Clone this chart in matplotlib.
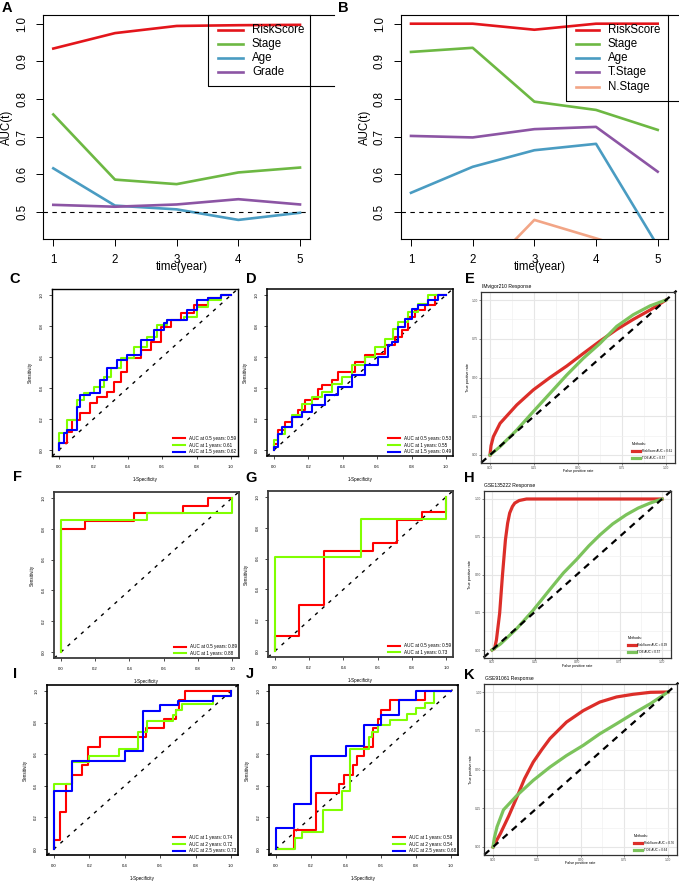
import matplotlib
matplotlib.use('Agg')
import matplotlib.pyplot as plt
from matplotlib.lines import Line2D

plt.rcParams['font.family'] = ['Liberation Sans', 'DejaVu Sans']

W, H = 679, 883

# ---- A / B : time-dependent AUC ----
years = [1, 2, 3, 4, 5]
a_names = ['RiskScore', 'Stage', 'Age', 'Grade']
a_riskscore = [0.934, 0.975, 0.994, 0.996, 0.997]
a_stage = [0.759, 0.586, 0.574, 0.605, 0.618]
a_age = [0.616, 0.517, 0.507, 0.479, 0.498]
a_grade = [0.519, 0.514, 0.520, 0.534, 0.520]

b_names = ['RiskScore', 'Stage', 'Age', 'T.Stage', 'N.Stage']
b_riskscore = [1.0, 1.0, 0.984, 1.0, 1.0]
b_stage = [0.925, 0.936, 0.793, 0.771, 0.718]
b_age = [0.551, 0.620, 0.664, 0.681, 0.41]
b_tstage = [0.702, 0.698, 0.720, 0.726, 0.607]
b_nstage = [0.33, 0.31, 0.479, 0.430, 0.38]

auc_colors = ['#E3151B', '#6DB843', '#4A9CC2', '#8C55A4', '#F2A586']

# ---- C / D : ROC, training / validation ----
c_labels = ['AUC at 0.5 years: 0.59', 'AUC at 1 years: 0.61', 'AUC at 1.5 years: 0.62']
c_red_fpr = [0, 0.047, 0.076, 0.125, 0.183, 0.222, 0.28, 0.319, 0.358, 0.397, 0.475, 0.533, 0.591, 0.65, 0.708, 0.786, 0.864, 0.942, 1.0]
c_red_tpr = [0, 0.043, 0.118, 0.194, 0.237, 0.301, 0.344, 0.376, 0.44, 0.505, 0.591, 0.645, 0.699, 0.796, 0.839, 0.882, 0.935, 0.978, 1.0]
c_green_fpr = [0, 0.047, 0.105, 0.144, 0.202, 0.261, 0.30, 0.358, 0.436, 0.514, 0.572, 0.63, 0.728, 0.805, 0.864, 0.942, 1.0]
c_green_tpr = [0, 0.108, 0.194, 0.323, 0.366, 0.409, 0.473, 0.527, 0.591, 0.667, 0.731, 0.806, 0.839, 0.86, 0.925, 0.968, 1.0]
c_blue_fpr = [0, 0.027, 0.047, 0.105, 0.125, 0.183, 0.241, 0.28, 0.338, 0.397, 0.475, 0.553, 0.611, 0.63, 0.747, 0.805, 0.864, 0.942, 1.0]
c_blue_tpr = [0, 0.043, 0.108, 0.129, 0.28, 0.355, 0.366, 0.452, 0.527, 0.581, 0.613, 0.71, 0.774, 0.817, 0.839, 0.903, 0.968, 0.978, 1.0]

d_labels = ['AUC at 0.5 years: 0.53', 'AUC at 1 years: 0.55', 'AUC at 1.5 years: 0.49']
d_red_fpr = [0, 0.025, 0.064, 0.103, 0.141, 0.18, 0.219, 0.258, 0.277, 0.335, 0.374, 0.403, 0.471, 0.529, 0.587, 0.645, 0.703, 0.742, 0.78, 0.82, 0.878, 0.936, 1.0]
d_red_tpr = [0, 0.04, 0.127, 0.18, 0.213, 0.256, 0.32, 0.331, 0.396, 0.417, 0.449, 0.503, 0.503, 0.568, 0.611, 0.622, 0.675, 0.729, 0.772, 0.858, 0.901, 0.933, 1.0]
d_green_fpr = [0, 0.025, 0.064, 0.103, 0.161, 0.219, 0.277, 0.335, 0.393, 0.452, 0.529, 0.587, 0.645, 0.694, 0.723, 0.78, 0.839, 0.897, 1.0]
d_green_tpr = [0, 0.062, 0.105, 0.148, 0.224, 0.30, 0.342, 0.374, 0.428, 0.471, 0.546, 0.60, 0.665, 0.718, 0.783, 0.826, 0.89, 0.944, 1.0]
d_blue_fpr = [0, 0.025, 0.045, 0.103, 0.161, 0.219, 0.296, 0.374, 0.452, 0.529, 0.607, 0.665, 0.684, 0.723, 0.762, 0.80, 0.839, 0.897, 0.955, 1.0]
d_blue_tpr = [0, 0.02, 0.105, 0.148, 0.213, 0.245, 0.288, 0.353, 0.406, 0.482, 0.546, 0.60, 0.675, 0.697, 0.794, 0.847, 0.912, 0.933, 0.966, 1.0]

# ---- F / G ----
f_labels = ['AUC at 0.5 years: 0.89', 'AUC at 1 years: 0.88']
f_red_fpr = [0, 0.143, 0.429, 0.714, 0.857, 1.0]
f_red_tpr = [0, 0.80, 0.85, 0.90, 0.95, 1.0]
f_green_fpr = [0, 0.5, 1.0, 1.0]
f_green_tpr = [0, 0.857, 0.905, 1.0]

g_labels = ['AUC at 0.5 years: 0.59', 'AUC at 1 years: 0.73']
g_red_fpr = [0, 0.143, 0.286, 0.571, 0.714, 0.857, 1.0, 1.0]
g_red_tpr = [0, 0.10, 0.30, 0.65, 0.70, 0.85, 0.90, 1.0]
g_green_fpr = [0, 0.5, 1.0, 1.0]
g_green_tpr = [0, 0.609, 0.857, 1.0]

# ---- I / J ----
i_labels = ['AUC at 1 years: 0.74', 'AUC at 2 years: 0.72', 'AUC at 2.5 years: 0.73']
i_red_fpr = [0, 0.034, 0.069, 0.103, 0.159, 0.19, 0.259, 0.517, 0.621, 0.69, 0.707, 0.741, 1.0]
i_red_tpr = [0, 0.059, 0.235, 0.41, 0.47, 0.53, 0.647, 0.706, 0.765, 0.824, 0.882, 0.941, 1.0]
i_green_fpr = [0, 0.1, 0.2, 0.367, 0.475, 0.525, 0.672, 0.69, 0.724, 0.9, 1.0, 1.0]
i_green_tpr = [0, 0.41, 0.553, 0.59, 0.632, 0.742, 0.81, 0.845, 0.88, 0.92, 0.966, 1.0]
i_blue_fpr = [0, 0.1, 0.4, 0.5, 0.6, 0.7, 0.9, 1.0, 1.0]
i_blue_tpr = [0, 0.368, 0.555, 0.62, 0.876, 0.91, 0.937, 0.97, 1.0]

j_labels = ['AUC at 1 years: 0.59', 'AUC at 2 years: 0.54', 'AUC at 2.5 years: 0.68']
j_red_fpr = [0, 0.1, 0.229, 0.362, 0.39, 0.44, 0.46, 0.5, 0.556, 0.585, 0.6, 0.65, 0.85, 1.0]
j_red_tpr = [0, 0, 0.118, 0.352, 0.41, 0.47, 0.53, 0.59, 0.647, 0.765, 0.82, 0.882, 0.94, 1.0]
j_green_fpr = [0, 0.108, 0.15, 0.267, 0.375, 0.42, 0.53, 0.55, 0.58, 0.65, 0.75, 0.8, 0.85, 0.9, 1.0]
j_green_tpr = [0, 0, 0.07, 0.11, 0.25, 0.368, 0.63, 0.71, 0.74, 0.783, 0.815, 0.857, 0.89, 0.926, 1.0]
j_blue_fpr = [0, 0.1, 0.2, 0.4, 0.505, 0.6, 0.7, 0.8, 1.0]
j_blue_tpr = [0, 0.13, 0.282, 0.59, 0.65, 0.783, 0.85, 0.94, 1.0]

roc_colors = ['#FF0000', '#80FF00', '#0000FF']

# ---- E / H / K : immunotherapy response ROC (smoothed) ----
e_title = 'IMvigor210 Response'
e_labels = ['RiskScore AUC = 0.61', 'TIDE AUC = 0.57']
e_red_fpr = [0, 0.006, 0.019, 0.057, 0.152, 0.246, 0.341, 0.436, 0.53, 0.625, 0.72, 0.814, 0.909, 1.0]
e_red_tpr = [0, 0.06, 0.118, 0.204, 0.323, 0.42, 0.50, 0.574, 0.655, 0.735, 0.81, 0.875, 0.935, 1.0]
e_green_fpr = [0, 0.057, 0.152, 0.246, 0.341, 0.436, 0.53, 0.625, 0.72, 0.814, 0.909, 1.0]
e_green_tpr = [0, 0.054, 0.161, 0.28, 0.398, 0.516, 0.624, 0.72, 0.83, 0.905, 0.962, 1.0]

h_title = 'GSE135222 Response'
h_labels = ['RiskScore AUC = 0.99', 'TIDE AUC = 0.57']
h_red_fpr = [0, 0.015, 0.026, 0.035, 0.045, 0.061, 0.079, 0.092, 0.104, 0.12, 0.134, 0.16, 0.203, 0.5, 1.0]
h_red_tpr = [0, 0.01, 0.066, 0.15, 0.243, 0.487, 0.73, 0.84, 0.907, 0.95, 0.973, 0.99, 1.0, 1.0, 1.0]
h_green_fpr = [0, 0.05, 0.144, 0.24, 0.34, 0.42, 0.498, 0.57, 0.636, 0.71, 0.79, 0.86, 0.93, 1.0]
h_green_tpr = [0, 0.04, 0.14, 0.26, 0.40, 0.51, 0.60, 0.69, 0.763, 0.835, 0.896, 0.94, 0.973, 1.0]

k_title = 'GSE91061 Response'
k_labels = ['RiskScore AUC = 0.76', 'TIDE AUC = 0.64']
k_red_fpr = [0, 0.042, 0.09, 0.137, 0.18, 0.23, 0.28, 0.326, 0.42, 0.516, 0.61, 0.706, 0.80, 0.9, 1.0]
k_red_tpr = [0, 0.086, 0.2, 0.323, 0.44, 0.548, 0.63, 0.70, 0.806, 0.88, 0.935, 0.968, 0.985, 0.998, 1.0]
k_green_fpr = [0, 0.008, 0.023, 0.06, 0.137, 0.23, 0.326, 0.42, 0.516, 0.61, 0.706, 0.80, 0.9, 1.0]
k_green_tpr = [0, 0.06, 0.13, 0.24, 0.333, 0.43, 0.516, 0.59, 0.656, 0.73, 0.795, 0.86, 0.925, 1.0]

resp_colors = ['#DC2E29', '#7CC35C']

fig = plt.figure(figsize=(W / 100, H / 100), dpi=100)


def px_axes(x_at, y_at, xlim, ylim):
    # place an axes so that given data values land on given pixel positions
    (dx0, px0), (dx1, px1) = x_at
    (dy0, py0), (dy1, py1) = y_at
    sx = (px1 - px0) / (dx1 - dx0)
    sy = (py1 - py0) / (dy1 - dy0)
    left = px0 + (xlim[0] - dx0) * sx
    right = px0 + (xlim[1] - dx0) * sx
    bottom = py0 + (ylim[0] - dy0) * sy
    top = py0 + (ylim[1] - dy0) * sy
    ax = fig.add_axes([left / W, 1 - bottom / H, (right - left) / W, (bottom - top) / H])
    ax.set_xlim(xlim)
    ax.set_ylim(ylim)
    return ax, (left, right, top, bottom)


def ftext(x, y, s, **kw):
    return fig.text(x / W, 1 - y / H, s, **kw)


def fline(xs, ys, **kw):
    fig.add_artist(Line2D([x / W for x in xs], [1 - y / H for y in ys],
                          transform=fig.transFigure, **kw))


def auc_panel(xpx, series, names, legend_left, legend_right, rows, line_x, text_x):
    ax, (l, r, t, b) = px_axes(((1, xpx[0]), (5, xpx[1])), ((0.5, 212), (1.0, 23.7)),
                               (0.84, 5.16), (0.428, 1.022))
    for vals, col in zip(series, auc_colors):
        ax.plot(years, vals, color=col, lw=1.9)
    ax.axhline(0.5, color='black', lw=0.8, ls=(0, (4, 4)))
    ax.set_xticks(years)
    ax.set_yticks([0.5, 0.6, 0.7, 0.8, 0.9, 1.0])
    ax.tick_params(length=5, width=0.7, labelsize=8.3, pad=6)
    plt.setp(ax.get_yticklabels(), rotation=90, va='center')
    for s in ax.spines.values():
        s.set_linewidth(0.8)
    ftext(l - 36, (t + b) / 2, 'AUC(t)', rotation=90, ha='center', va='center', fontsize=8.3)
    ftext((l + r) / 2 + 5, 267, 'time(year)', ha='center', va='center', fontsize=8.3)
    # legend box (transparent, runs past the plot edge)
    bot = rows[-1] + 14
    fline([legend_right, legend_left, legend_left, legend_right], [t, t, bot, bot], color='black', lw=0.8)
    for name, col, y in zip(names, auc_colors, rows):
        fline(line_x, [y, y], color=col, lw=1.9)
        ftext(text_x, y, name, ha='left', va='center', fontsize=8.3)


auc_panel((53.3, 300), [a_riskscore, a_stage, a_age, a_grade], a_names,
          208, 334, [30, 44, 58, 72], [218, 243], 252)
auc_panel((411, 657.7), [b_riskscore, b_stage, b_age, b_tstage, b_nstage], b_names,
          566, 690, [30, 44, 58, 72, 87], [576, 599], 608)


def roc_panel(x_at, y_at, curves, labels, frame_col, frame_lw):
    ax, (l, r, t, b) = px_axes(x_at, y_at, (-0.04, 1.04), (-0.04, 1.04))
    ax.axline((0, 0), (1, 1), color='black', lw=1.0, ls=(0, (2.5, 4)))
    for (fpr, tpr), lab, col in zip(curves, labels, roc_colors):
        ax.plot(fpr, tpr, drawstyle='steps-pre', color=col, lw=1.5, label=lab)
    ticks = [0, 0.2, 0.4, 0.6, 0.8, 1.0]
    ax.set_xticks(ticks)
    ax.set_yticks(ticks)
    ax.set_xticklabels([f'{v:.1f}' for v in ticks])
    ax.set_yticklabels([f'{v:.1f}' for v in ticks])
    ax.tick_params(length=2.2, width=0.5, labelsize=3.1, pad=4)
    plt.setp(ax.get_yticklabels(), rotation=90, va='center')
    for s in ax.spines.values():
        s.set_color(frame_col)
        s.set_linewidth(frame_lw)
    ax.legend(loc='lower right', frameon=False, fontsize=3.3, handlelength=2.6,
              handletextpad=0.8, labelspacing=0.35, borderaxespad=0.25, borderpad=0.2)
    ftext((l + r) / 2, b + 23, '1-Specificity', ha='center', va='center', fontsize=3.3)
    ftext(l - 22, (t + b) / 2, 'Sensitivity', rotation=90, ha='center', va='center', fontsize=3.3)
    return ax


roc_panel(((0, 59), (1, 231)), ((0, 450), (1, 295)),
          [(c_red_fpr, c_red_tpr), (c_green_fpr, c_green_tpr), (c_blue_fpr, c_blue_tpr)],
          c_labels, 'black', 1.0)
roc_panel(((0, 274), (1, 446)), ((0, 450), (1, 295)),
          [(d_red_fpr, d_red_tpr), (d_green_fpr, d_green_tpr), (d_blue_fpr, d_blue_tpr)],
          d_labels, 'black', 1.1)
roc_panel(((0, 61), (1, 232)), ((0, 652), (1, 498)),
          [(f_red_fpr, f_red_tpr), (f_green_fpr, f_green_tpr)], f_labels, '#3a3a3a', 1.3)
roc_panel(((0, 275), (1, 446)), ((0, 651), (1, 497)),
          [(g_red_fpr, g_red_tpr), (g_green_fpr, g_green_tpr)], g_labels, '#3a3a3a', 1.3)
roc_panel(((0, 54), (1, 231)), ((0, 849), (1, 691)),
          [(i_red_fpr, i_red_tpr), (i_green_fpr, i_green_tpr), (i_blue_fpr, i_blue_tpr)],
          i_labels, 'black', 1.2)
roc_panel(((0, 276), (1, 451)), ((0, 849), (1, 691)),
          [(j_red_fpr, j_red_tpr), (j_green_fpr, j_green_tpr), (j_blue_fpr, j_blue_tpr)],
          j_labels, 'black', 1.2)


def gg_panel(x_at, y_at, title, curves, labels):
    ax, (l, r, t, b) = px_axes(x_at, y_at, (-0.05, 1.05), (-0.05, 1.05))
    ticks = [0, 0.25, 0.5, 0.75, 1.0]
    ax.set_xticks(ticks)
    ax.set_yticks(ticks)
    ax.set_xticklabels([f'{v:.2f}' for v in ticks])
    ax.set_yticklabels([f'{v:.2f}' for v in ticks])
    minor = [0.125, 0.375, 0.625, 0.875]
    ax.set_xticks(minor, minor=True)
    ax.set_yticks(minor, minor=True)
    ax.grid(which='major', color='#E6E6E6', lw=0.8)
    ax.grid(which='minor', color='#F0F0F0', lw=0.45)
    ax.set_axisbelow(True)
    ax.tick_params(which='major', length=1.2, width=0.4, labelsize=2.3, pad=0.8,
                   colors='#333333', labelcolor='#4D4D4D')
    ax.tick_params(which='minor', length=0)
    for s in ax.spines.values():
        s.set_color('#333333')
        s.set_linewidth(0.9)
    for (fpr, tpr), lab, col in zip(curves, labels, resp_colors):
        ax.plot(fpr, tpr, color=col, lw=2.3, label=lab, solid_joinstyle='round')
    ax.plot([-0.05, 1.06], [-0.05, 1.06], color='black', lw=1.6, ls=(0, (3, 2.5)), clip_on=False)
    ax.legend(loc='lower right', title='Methods:', frameon=False, fontsize=2.2,
              title_fontsize=2.6, handlelength=2.6, labelspacing=1.0, alignment='left',
              borderaxespad=0.6, handletextpad=0.6)
    ftext(l + 1, t - 6, title, ha='left', va='center', fontsize=3.6)
    ftext((l + r) / 2, b + 8, 'False positive rate', ha='center', va='center', fontsize=2.7)
    ftext(l - 13, (t + b) / 2, 'True positive rate', rotation=90, ha='center', va='center', fontsize=2.7)
    return ax


gg_panel(((0, 490), (1, 666)), ((0, 455), (1, 300)), e_title,
         [(e_red_fpr, e_red_tpr), (e_green_fpr, e_green_tpr)], e_labels)
gg_panel(((0, 492), (1, 662)), ((0, 650), (1, 499)), h_title,
         [(h_red_fpr, h_red_tpr), (h_green_fpr, h_green_tpr)], h_labels)
gg_panel(((0, 493), (1, 668)), ((0, 847), (1, 692)), k_title,
         [(k_red_fpr, k_red_tpr), (k_green_fpr, k_green_tpr)], k_labels)

# panel letters
letters = ['A', 'B', 'C', 'D', 'E', 'F', 'G', 'H', 'I', 'J', 'K']
letter_px = [(7, 8), (343, 8), (15, 279), (251, 279), (470, 279), (17, 477),
             (251, 478), (469, 478), (15, 674), (250, 674), (469, 675)]
for s, (x, y) in zip(letters, letter_px):
    ftext(x, y, s, ha='center', va='center', fontsize=10.5, fontweight='bold')

fig.savefig('out.png', dpi=100)
